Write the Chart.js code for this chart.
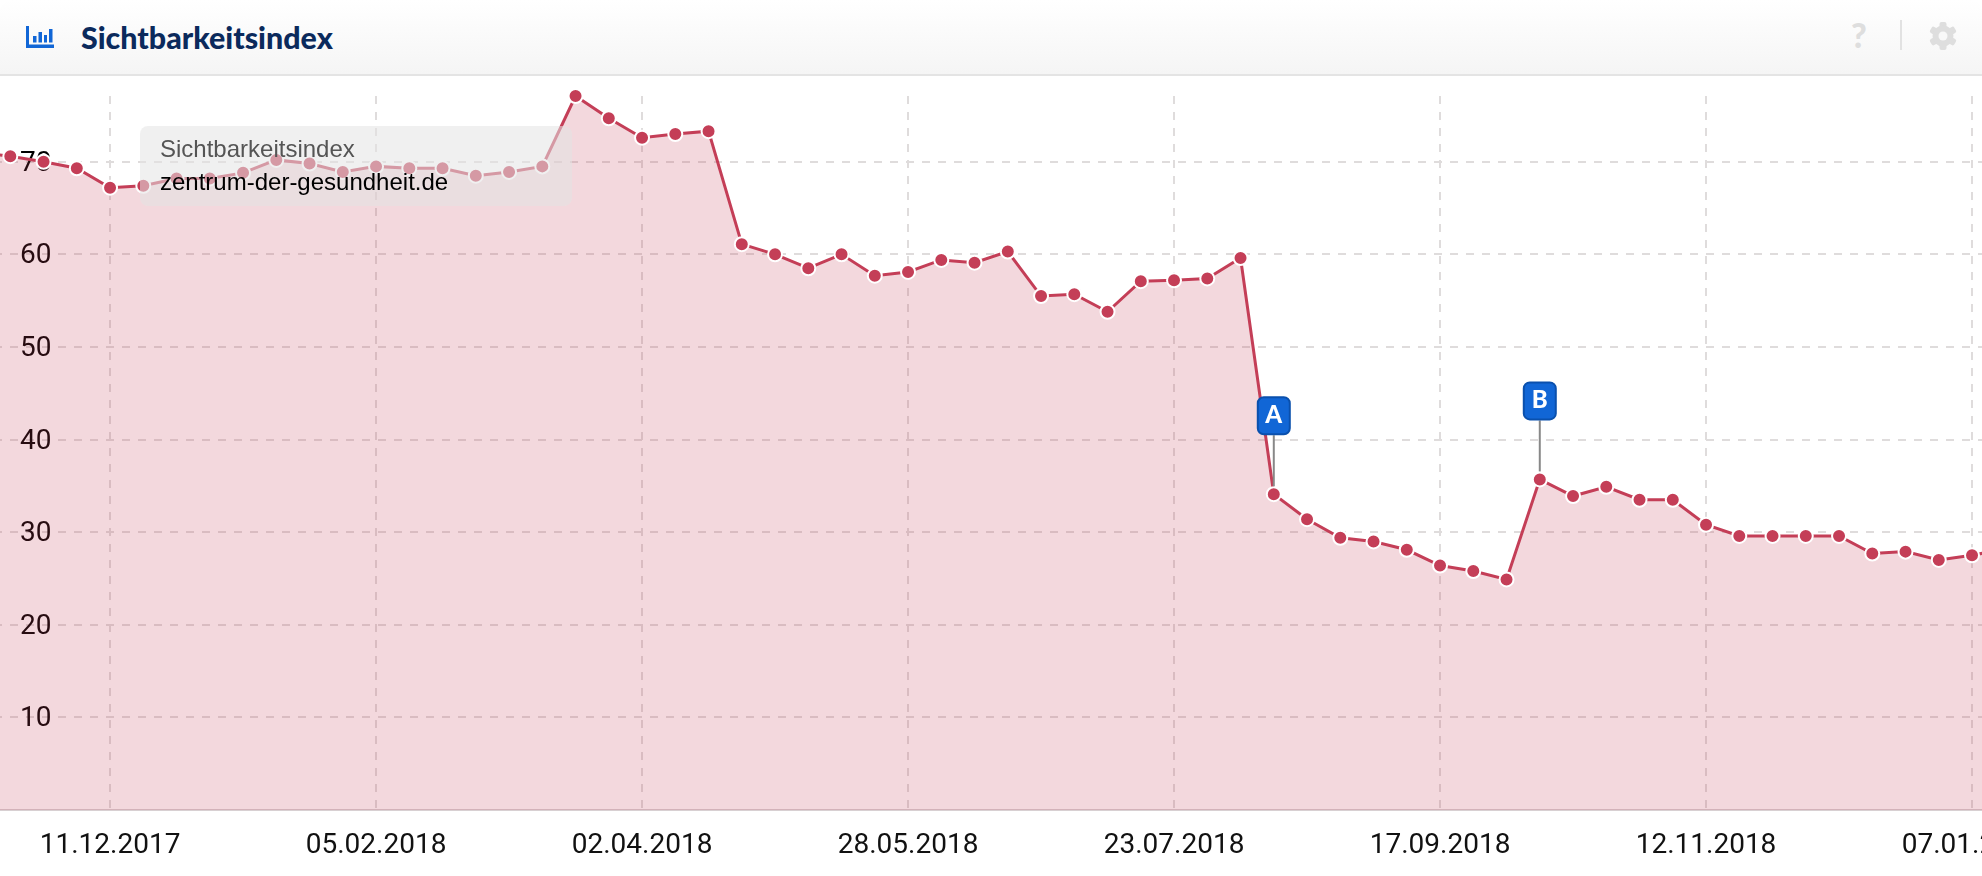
<!DOCTYPE html>
<html lang="de">
<head>
<meta charset="utf-8">
<title>Sichtbarkeitsindex</title>
<script src="https://cdn.jsdelivr.net/npm/chart.js@4"></script>
<style>
    html, body { margin: 0; padding: 0; background: #fff; overflow: hidden; }
    .header {
        position: relative;
        height: 74px;
        box-sizing: content-box;
        border-bottom: 2px solid #e4e4e4;
        border-radius: 12px 12px 0 0;
        background: linear-gradient(#ffffff, #f5f5f5);
    }
    .header h1 {
        position: absolute;
        left: 81px;
        top: 19px;
        margin: 0;
        font: 900 30.4px/36px Lato, sans-serif;
        color: #0b2a5c;
    }
    .header svg { position: absolute; }
    .help {
        position: absolute;
        left: 1851px;
        top: 15px;
        font: 900 34px/40px Lato, sans-serif;
        color: #dedede;
    }
    .sep { position: absolute; left: 1900px; top: 20px; width: 2px; height: 30px; background: #e2e2e2; }
    #chart { position: absolute; left: 0; top: 75px; display: block; }
</style>
</head>
<body>
<div class="header">
    <svg style="left:26px;top:26px" width="28" height="22" viewBox="0 0 28 22">
        <path d="M0 0h3v18.500H28V22H0z M7 10h3.500v6.500H7z M12.500 6h3.500v10.500h-3.500z M18 9h3v7.500h-3z M23 3h3.500v13.500H23z" fill="#1166d6"/>
    </svg>
    <h1>Sichtbarkeitsindex</h1>
    <div class="help">?</div>
    <div class="sep"></div>
    <svg style="left:1929px;top:22px" width="28" height="28" viewBox="0 0 28 28">
        <g fill="#dedede">
            <rect x="10.500" y="0" width="7" height="28" rx="2"/>
            <rect x="10.500" y="0" width="7" height="28" rx="2" transform="rotate(60 14 14)"/>
            <rect x="10.500" y="0" width="7" height="28" rx="2" transform="rotate(120 14 14)"/>
            <circle cx="14" cy="14" r="10.500"/>
        </g>
        <circle cx="14" cy="14" r="4.500" fill="#f8f8f8"/>
    </svg>
</div>
<canvas id="chart" width="1982" height="801"></canvas>

<script>
// weekly readings, first and last one sit just outside the visible range
const dates = [
    "13.11.2017", "20.11.2017", "27.11.2017", "04.12.2017", "11.12.2017", "18.12.2017", "25.12.2017",
    "01.01.2018", "08.01.2018", "15.01.2018", "22.01.2018", "29.01.2018", "05.02.2018", "12.02.2018",
    "19.02.2018", "26.02.2018", "05.03.2018", "12.03.2018", "19.03.2018", "26.03.2018", "02.04.2018",
    "09.04.2018", "16.04.2018", "23.04.2018", "30.04.2018", "07.05.2018", "14.05.2018", "21.05.2018",
    "28.05.2018", "04.06.2018", "11.06.2018", "18.06.2018", "25.06.2018", "02.07.2018", "09.07.2018",
    "16.07.2018", "23.07.2018", "30.07.2018", "06.08.2018", "13.08.2018", "20.08.2018", "27.08.2018",
    "03.09.2018", "10.09.2018", "17.09.2018", "24.09.2018", "01.10.2018", "08.10.2018", "15.10.2018",
    "22.10.2018", "29.10.2018", "05.11.2018", "12.11.2018", "19.11.2018", "26.11.2018", "03.12.2018",
    "10.12.2018", "17.12.2018", "24.12.2018", "31.12.2018", "07.01.2019", "14.01.2019"
];
const values = [
    71.0, 70.6, 70.0, 69.3, 67.2, 67.4, 68.2, 68.2, 68.8, 70.2, 69.8, 68.9, 69.5, 69.3, 69.3, 68.5,
    68.9, 69.5, 77.1, 74.7, 72.6, 73.0, 73.3, 61.1, 60.0, 58.5, 60.0, 57.7, 58.1, 59.4, 59.1, 60.3,
    55.5, 55.7, 53.8, 57.1, 57.2, 57.4, 59.6, 34.1, 31.4, 29.4, 29.0, 28.1, 26.4, 25.8, 24.9, 35.7,
    33.9, 34.9, 33.5, 33.5, 30.8, 29.6, 29.6, 29.6, 29.6, 27.7, 27.9, 27.0, 27.5, 28.2
];
const xTickLabels = ["11.12.2017", "05.02.2018", "02.04.2018", "28.05.2018", "23.07.2018", "17.09.2018", "12.11.2018", "07.01.2019"];
const yTickValues = [10, 20, 30, 40, 50, 60, 70];
const markerLabels = ["A", "B"];
const markerDates = ["13.08.2018", "08.10.2018"];
const tooltipTitle = "Sichtbarkeitsindex";
const tooltipText = "zentrum-der-gesundheit.de";

const LINE_COLOR = "#c43e57";
const FILL_COLOR = "rgba(196, 62, 87, 0.2)";

function roundedBox(ctx, x, y, w, h, r) {
    ctx.beginPath();
    ctx.roundRect(x, y, w, h, r);
}

// blue A / B flags standing on their data points
const markerPlugin = {
    id: "markers",
    afterDatasetsDraw(chart) {
        const ctx = chart.ctx;
        ctx.save();
        markerLabels.forEach((label, i) => {
            const idx = dates.indexOf(markerDates[i]);
            const px = chart.scales.x.getPixelForValue(idx);
            const py = chart.scales.y.getPixelForValue(values[idx]);
            ctx.strokeStyle = "#888888";
            ctx.lineWidth = 2;
            ctx.beginPath();
            ctx.moveTo(px, py - 8);
            ctx.lineTo(px, py - 59);
            ctx.stroke();
            roundedBox(ctx, px - 16, py - 97, 32, 37, 6);
            ctx.fillStyle = "#1166d6";
            ctx.fill();
            ctx.strokeStyle = "#0a50ad";
            ctx.stroke();
            ctx.fillStyle = "#fff";
            ctx.font = "900 24px Lato, sans-serif";
            ctx.textAlign = "center";
            ctx.textBaseline = "middle";
            ctx.fillText(label, px, py - 79);
        });
        ctx.restore();
    }
};

// frozen tooltip that sits over the line in the screenshot
const tooltipPlugin = {
    id: "fixedTooltip",
    afterDraw(chart) {
        const ctx = chart.ctx;
        ctx.save();
        roundedBox(ctx, 140, 51, 432, 80, 8);
        ctx.fillStyle = "rgba(228, 228, 228, 0.55)";
        ctx.fill();
        ctx.font = "24px 'Liberation Sans', sans-serif";
        ctx.textAlign = "left";
        ctx.textBaseline = "middle";
        ctx.fillStyle = "#555555";
        ctx.fillText(tooltipTitle, 160, 75);
        ctx.fillStyle = "#000000";
        ctx.fillText(tooltipText, 160, 108);
        ctx.restore();
    }
};

function renderChart() {
    const ctx = document.getElementById("chart").getContext("2d");

    new Chart(ctx, {
        type: "line",
        data: {
            datasets: [{
                label: "Sichtbarkeitsindex",
                data: values.map((v, i) => ({ x: i, y: v })),
                borderColor: LINE_COLOR,
                backgroundColor: FILL_COLOR,
                borderWidth: 3,
                fill: "origin",
                tension: 0,
                clip: false,
                pointRadius: 7,
                pointBorderWidth: 2,
                pointBorderColor: "#ffffff",
                pointBackgroundColor: LINE_COLOR
            }]
        },
        options: {
            responsive: false,
            animation: false,
            layout: { autoPadding: false, padding: { top: 21, left: 0, right: 0, bottom: 0 } },
            plugins: {
                legend: { display: false },
                tooltip: { enabled: false }
            },
            scales: {
                x: {
                    type: "linear",
                    min: 0.69,
                    max: 60.3,
                    afterBuildTicks: axis => {
                        axis.ticks = xTickLabels.map(d => ({ value: dates.indexOf(d) }));
                    },
                    afterFit: axis => {
                        axis.height = 66;
                        axis.paddingLeft = 0;
                        axis.paddingRight = 0;
                    },
                    grid: { color: "#dfdcdc", lineWidth: 2, drawTicks: false },
                    border: { color: "#d8d0d2", width: 2, dash: [8, 8] },
                    ticks: {
                        autoSkip: false,
                        maxRotation: 0,
                        padding: 19,
                        color: "#111111",
                        font: { family: "Roboto", size: 28 },
                        callback: value => dates[value]
                    }
                },
                y: {
                    min: 0,
                    max: 77.1,
                    afterBuildTicks: axis => {
                        axis.ticks = yTickValues.map(v => ({ value: v }));
                    },
                    afterFit: axis => {
                        axis.width = 0;
                        axis.paddingTop = 0;
                        axis.paddingBottom = 0;
                    },
                    grid: { color: "#dfdcdc", lineWidth: 2, drawTicks: false },
                    border: { display: false, dash: [8, 8], dashOffset: 6 },
                    ticks: {
                        mirror: true,
                        padding: 20,
                        labelOffset: 2,
                        color: "#000000",
                        font: { family: "Roboto", size: 28 }
                    }
                }
            }
        },
        plugins: [markerPlugin, tooltipPlugin]
    });
}

renderChart();
</script>
</body>
</html>
